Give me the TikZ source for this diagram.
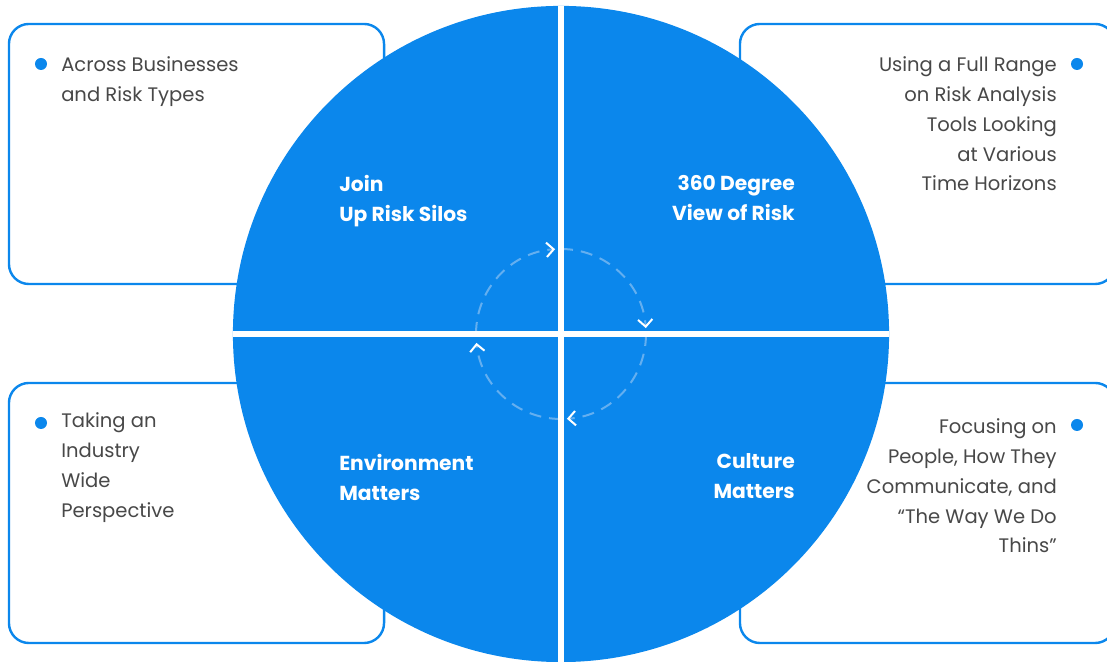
\documentclass[tikz,border=0pt]{standalone}
\usepackage{fontspec}
\setmainfont{Poppins}
\usetikzlibrary{positioning,arrows.meta}
\definecolor{riskblue}{RGB}{11,135,236}
\definecolor{ringblue}{RGB}{100,175,240}
\definecolor{bodygray}{RGB}{72,72,72}

\begin{document}
\begin{tikzpicture}[x=0.025cm, y=0.025cm,
    every node/.style={inner sep=0pt},
    panel/.style={draw=riskblue, line width=0.06cm, rounded corners=0.5cm, fill=white,
        minimum width=9.375cm, minimum height=6.5cm},
    dot/.style={circle, fill=riskblue, minimum size=0.3cm},
    point/.style={text=bodygray, font=\fontsize{13.9}{21.3}\selectfont},
    title/.style={text=white, font=\bfseries\fontsize{14.4}{21.3}\selectfont},
    flow/.style={ringblue, line width=0.05cm, dash pattern=on 0.3cm off 0.2cm,
        -{Straight Barb[color=white, length=0.18cm, width=0.36cm, line width=0.05cm]}}]

    \clip (0,0) rectangle (1107,662);

    % the four panels behind the disc
    \node[panel] (p-tl) at (196.5,508) {};
    \node[panel] (p-bl) at (196.5,149) {};
    \node[panel] (p-tr) at (927.5,508) {};
    \node[panel] (p-br) at (927.5,149) {};

    \node[dot] (dot-tl) at (41,598) {};
    \node[dot] (dot-tr) at (1077,598) {};
    \node[dot] (dot-bl) at (41,239) {};
    \node[dot] (dot-br) at (1077,237) {};

    \node[point, align=left, anchor=north west] (txt-tl) at (61,606)
        {Across Businesses\\and Risk Types};
    \node[point, align=right, anchor=north east] (txt-tr) at (1057,606)
        {Using a Full Range\\on Risk Analysis\\Tools Looking\\at Various\\Time Horizons};
    \node[point, align=left, anchor=north west] (txt-bl) at (61,250)
        {Taking an\\Industry\\Wide\\Perspective};
    \node[point, align=right, anchor=north east] (txt-br) at (1057,244)
        {Focusing on\\People, How They\\Communicate, and\\“The Way We Do\\Thins”};

    % the disc and its quarters
    \node[circle, fill=riskblue, minimum size=16.4cm] (disc) at (561,328) {};

    \draw[flow] ([shift={(180:85)}]disc.center) arc[start angle=180, end angle=94, radius=85];
    \draw[flow] ([shift={(90:85)}]disc.center) arc[start angle=90, end angle=4, radius=85];
    \draw[flow] ([shift={(0:85)}]disc.center) arc[start angle=0, end angle=-86, radius=85];
    \draw[flow] ([shift={(270:85)}]disc.center) arc[start angle=270, end angle=186, radius=85];

    \draw[white, line width=0.14cm] (disc.north) -- (disc.south);
    \draw[white, line width=0.14cm] (disc.west) -- (disc.east);

    \node[title, align=left, anchor=north west] (q-tl) at (339,487) {Join\\Up Risk Silos};
    \node[title, align=right, anchor=north east] (q-tr) at (795,487) {360 Degree\\View of Risk};
    \node[title, align=left, anchor=north west] (q-bl) at (339,208) {Environment\\Matters};
    \node[title, align=right, anchor=north east] (q-br) at (795,209) {Culture\\Matters};
\end{tikzpicture}
\end{document}
